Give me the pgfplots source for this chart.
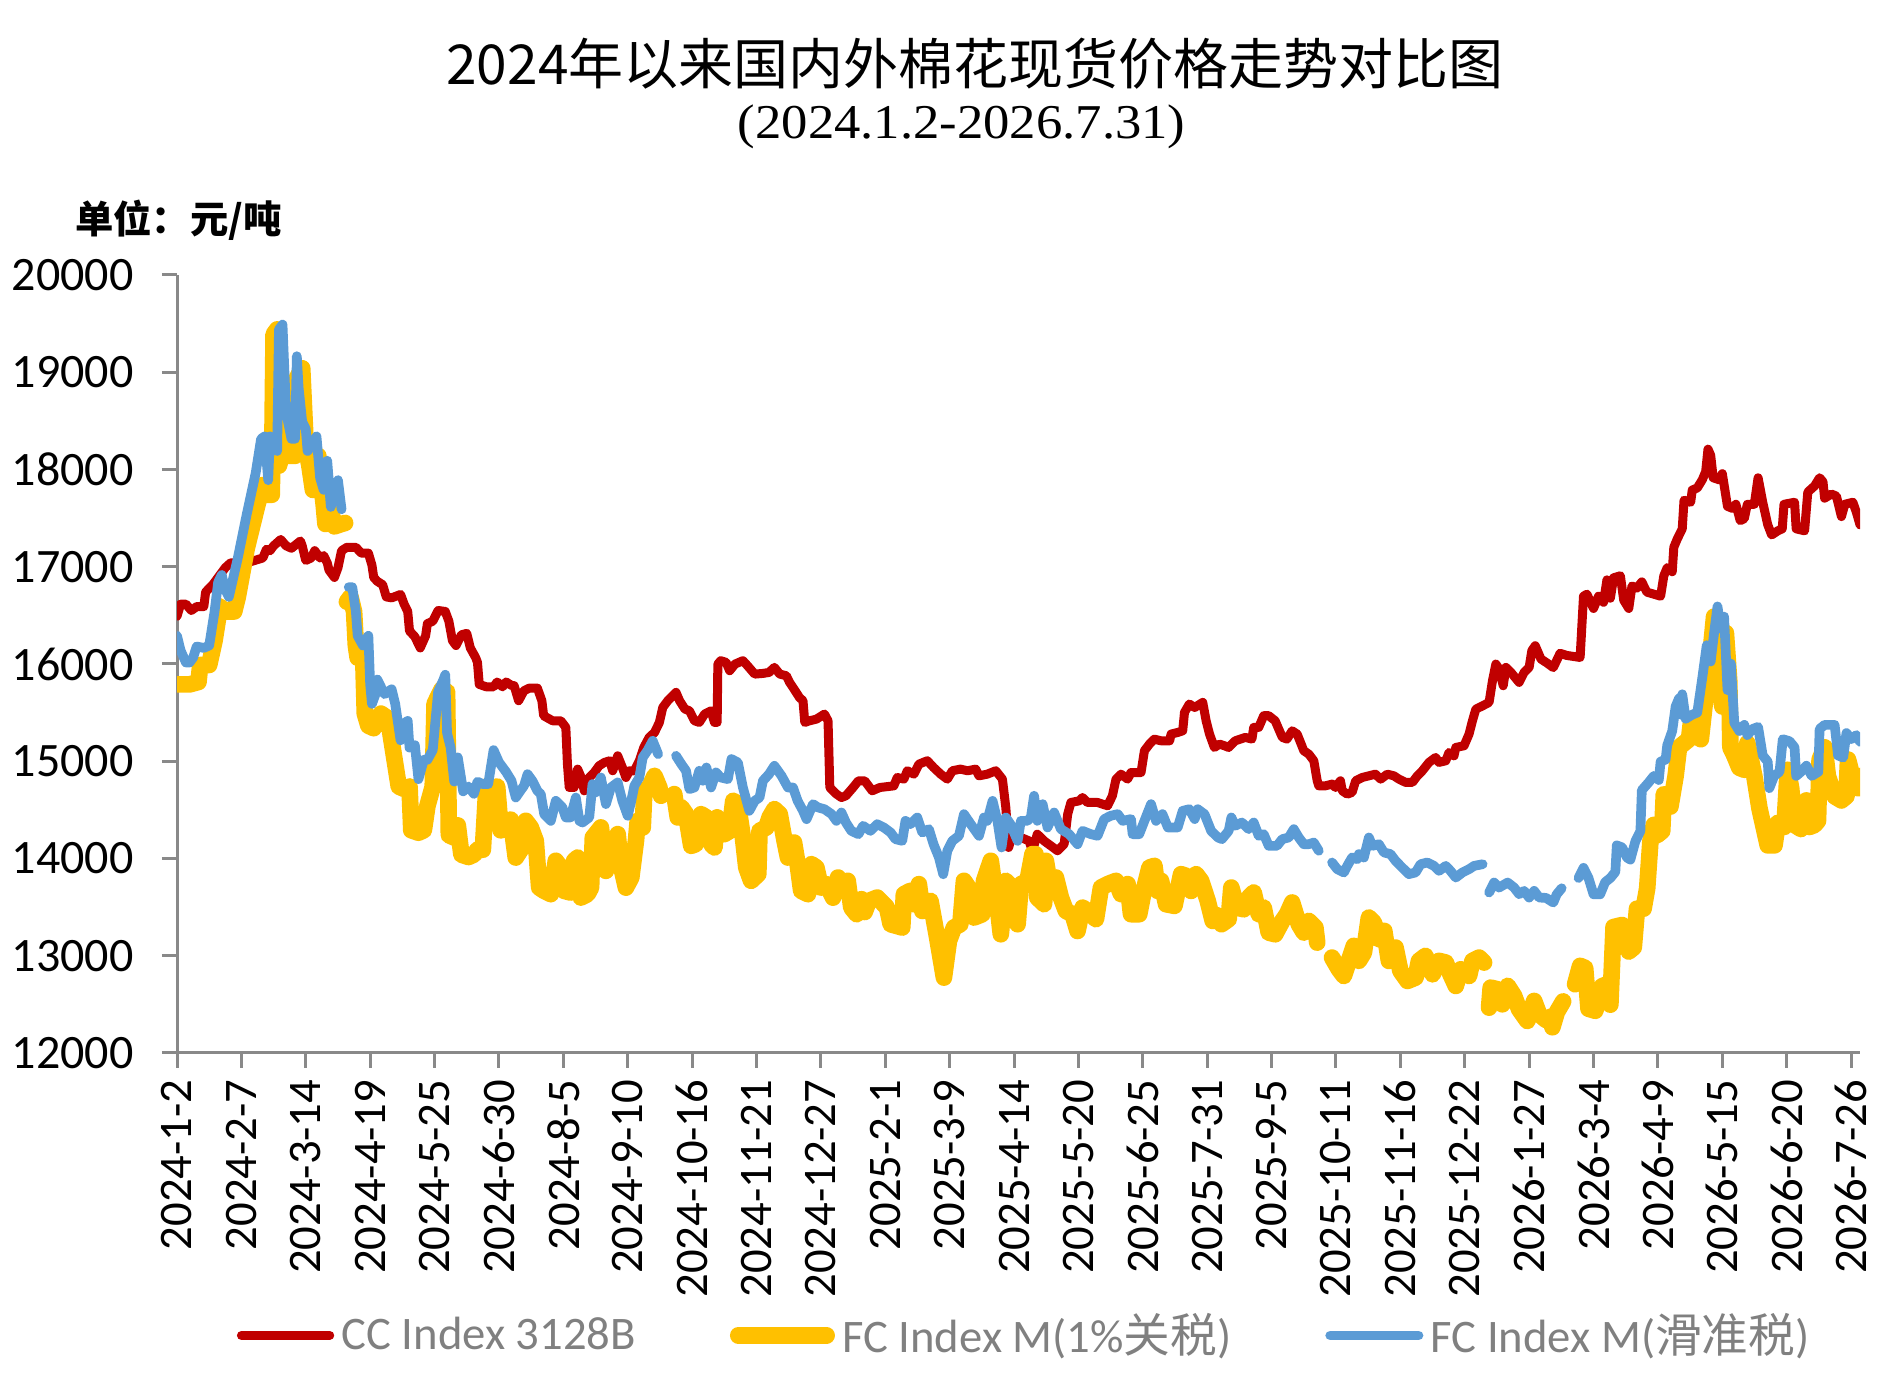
\documentclass[border=0pt]{standalone}
\usepackage{fontspec}
\setmainfont{Carlito}
\newfontfamily\cjk{Noto Sans CJK SC}
\newfontfamily\serifsub{Liberation Serif}
\usepackage{pgfplots}
\pgfplotsset{compat=1.18}
\definecolor{cred}{HTML}{C00000}
\definecolor{cyel}{HTML}{FFC000}
\definecolor{cblu}{HTML}{5B9BD5}
\definecolor{axgray}{HTML}{898989}
\definecolor{leggray}{HTML}{808080}
\begin{document}
\begin{tikzpicture}
\useasboundingbox (0pt,0pt) rectangle (570.3pt,419.4pt);
\node at (292.5pt,400.2pt) {\cjk\fontsize{16.5}{18}\selectfont 2024年以来国内外棉花现货价格走势对比图};
\node at (288.5pt,381.2pt) {\scalebox{1.17}[1.08]{\serifsub\fontsize{13.5}{15}\selectfont (2024.1.2-2026.7.31)}};
\node[anchor=west] at (19pt,353.4pt) {\cjk\bfseries\fontsize{11.5}{13}\selectfont 单位：元/吨};
\begin{axis}[
  at={(53.1pt,103.5pt)}, anchor=south west,
  scale only axis, width=504.9pt, height=233.4pt,
  xmin=0, xmax=941, ymin=12000, ymax=20000,
  axis x line*=bottom, axis y line*=left,
  axis line style={draw=axgray, line width=0.9pt},
  every tick/.style={draw=axgray, line width=0.9pt},
  tick align=outside, major tick length=4.5pt,
  xtick={0,36,...,936},
  xticklabels={2024-1-2,2024-2-7,2024-3-14,2024-4-19,2024-5-25,2024-6-30,2024-8-5,2024-9-10,2024-10-16,2024-11-21,2024-12-27,2025-2-1,2025-3-9,2025-4-14,2025-5-20,2025-6-25,2025-7-31,2025-9-5,2025-10-11,2025-11-16,2025-12-22,2026-1-27,2026-3-4,2026-4-9,2026-5-15,2026-6-20,2026-7-26},
  xticklabel style={rotate=90, anchor=east, font=\fontsize{14}{16}\selectfont},
  ytick={12000,13000,...,20000},
  scaled y ticks=false,
  yticklabel style={font=\fontsize{14.4}{16}\selectfont, /pgf/number format/1000 sep={}, xshift=-5pt},
  /pgf/number format/assume math mode=true,
  unbounded coords=jump,
  legend columns=3,
  legend style={at={(0.0352,-0.363)}, anchor=west, draw=none, fill=none, inner sep=0pt,
    font=\fontsize{14}{16}\selectfont, text=leggray,
    /tikz/every even column/.append style={column sep=26pt},
    nodes={inner sep=2.2pt}},
  legend image code/.code={\draw[#1] (0pt,0pt) -- (26.5pt,0pt);},
]
\addplot[cred, line width=2.7pt, line join=round, line cap=round] coordinates {
(0,16490)(2,16615)(5,16615)(8,16550)(11,16590)(15,16590)(16,16740)(20,16815)(22,16865)(27,16990)
(30,17040)(39,17040)(48,17090)(50,17180)(52,17165)(54,17215)(58,17280)(61,17215)(64,17190)(69,17265)
(70,17215)(72,17065)(75,17090)(77,17165)(80,17090)(82,17115)(84,17040)(85,16965)(88,16890)(90,16990)
(92,17165)(95,17200)(100,17200)(103,17140)(107,17140)(109,17015)(110,16890)(112,16850)(115,16815)(117,16690)
(120,16680)(125,16715)(127,16615)(129,16540)(130,16340)(133,16280)(136,16165)(139,16290)(140,16415)(143,16440)
(146,16550)(150,16540)(152,16440)(154,16240)(156,16190)(159,16300)(162,16315)(164,16165)(167,16065)(168,16015)
(169,15790)(173,15765)(177,15765)(179,15815)(182,15765)(184,15815)(187,15780)(188.5,15777)(191,15622)(194,15725)
(197,15752)(201.5,15752)(204,15622)(205,15468)(210,15416)(214.6,15416)(217.4,15348)(218.3,14970)(219.3,14730)(222,14730)
(224,14919)(226,14833)(227.7,14696)(230.5,14833)(233.3,14885)(236,14953)(239,14988)(242,15005)(243.6,14902)(246.4,15056)
(249,14936)(251,14833)(253,14902)(255.7,14902)(258.5,15005)(261,15142)(264,15245)(267,15296)(269.7,15399)(271.6,15553)
(274.4,15622)(279,15708)(281,15622)(284,15536)(286.5,15519)(289.3,15416)(292,15399)(295,15485)(298.6,15519)(300.5,15399)
(302,15399)(302.4,15999)(304,16034)(307,16017)(309,15931)(312,15999)(316.4,16034)(319,15982)(323,15896)(327.6,15903)
(331,15913)(334,15965)(337,15896)(340.7,15879)(342.5,15811)(345,15742)(348,15656)(350,15622)(351,15399)(353.7,15416)
(357.5,15433)(362,15485)(364,15416)(365,14730)(368.7,14662)(371.5,14627)(374,14645)(378,14730)(381,14799)(384.5,14799)
(386.5,14750)(388.7,14696)(393,14730)(400.8,14747)(402.7,14833)(406.4,14816)(408.3,14902)(412,14867)(414.8,14970)(419.5,15005)
(423,14936)(427,14867)(430.7,14816)(433.5,14902)(438,14919)(442,14902)(446.6,14919)(448.4,14850)(453,14867)(457.8,14902)
(461.5,14816)(463.4,14524)(465,14113)(467,14250)(471.8,14216)(476.4,14181)(478.3,14079)(481,14250)(484.8,14181)(488.6,14130)
(492.3,14079)(496,14147)(498,14456)(499.8,14576)(504.5,14593)(506.3,14627)(509,14576)(514.7,14576)(520.3,14542)(523,14645)
(525,14816)(527.8,14867)(531.5,14816)(533.4,14884)(539,14884)(540.9,15108)(543.7,15176)(546.5,15227)(550.2,15210)(555,15210)
(555.8,15279)(559.5,15296)(562.3,15313)(563.3,15502)(566,15588)(569,15553)(573.5,15605)(575.4,15416)(577.3,15279)(580,15142)
(582.9,15176)(585.7,15159)(588,15142)(591.7,15210)(597.3,15245)(601,15228)(602,15348)(604.8,15348)(607.6,15468)(610.4,15468)
(614,15416)(618,15245)(620.6,15228)(623.5,15313)(626.3,15279)(630,15108)(632.8,15073)(635.6,15005)(637.5,14799)(638.4,14747)
(642,14747)(646,14765)(647.7,14730)(650.5,14799)(651.5,14696)(654.3,14662)(657,14679)(659,14799)(662.7,14833)(666.4,14850)
(670,14867)(673,14816)(676.7,14867)(680.4,14850)(683.2,14816)(687,14782)(690.7,14782)(693.5,14850)(696.3,14902)(700,14988)
(703.7,15039)(705.6,14988)(709.4,15005)(711.2,15090)(714,15056)(715,15142)(719.6,15159)(722.4,15279)(724.3,15416)(726.2,15536)
(730,15570)(733.6,15605)(735.5,15828)(737.4,15999)(739.2,15948)(741.5,15776)(743,15965)(745.8,15914)(750.4,15811)(753.2,15914)
(756,15965)(757.5,16137)(759.4,16188)(762.6,16051)(766,16010)(769.5,15963)(773.3,16110)(777,16088)(784.5,16067)(786.4,16697)
(788.3,16718)(792,16571)(794.8,16697)(797.6,16634)(799.5,16865)(801.4,16676)(803.2,16886)(807,16907)(808.9,16655)(811.7,16571)
(813.5,16802)(816.3,16781)(819,16844)(821.8,16739)(825.7,16718)(829.5,16697)(831.3,16907)(833.2,16991)(836,16949)(836.9,17201)
(838.8,17285)(841.6,17390)(842.6,17684)(846.3,17663)(847.2,17789)(850,17810)(852.8,17894)(854.7,17978)(856,18209)(857.5,18146)
(858.9,17915)(862.2,17894)(864,17957)(866.9,17621)(869.7,17600)(871.6,17642)(874,17474)(876.3,17495)(878,17642)(881.9,17642)
(884,17915)(886.6,17663)(889.4,17432)(891.6,17327)(895,17369)(897.5,17390)(898.5,17642)(904.4,17663)(905.3,17390)(910,17369)
(911.8,17768)(915.6,17831)(918.4,17915)(920.3,17873)(921.2,17705)(925,17747)(927.8,17726)(930.6,17516)(932.5,17642)(937,17663)
(939,17558)(941,17430)
};
\addlegendentry{CC Index 3128B}
\addplot[cyel, line width=5pt, line join=round, line cap=round] coordinates {
(0,15790)(4,15790)(7,15790)(12,15815)(13,15990)(18,15990)(21,16240)(24,16590)(27,16540)(32,16540)
(34,16690)(39,17190)(45,17640)(48,17840)(49,17740)(53,17740)(54,19390)(56,19440)(57,18040)(60,18240)
(62,18140)(66,18140)(67,18940)(70,19040)(72,18240)(74,18040)(76,17790)(79,18140)(82,17640)(83,17440)
(86,17590)(88,17415)(92,17440)(94,17450)(94.5,nan)(95,16640)(97,16690)(99,16540)(100,16190)(101,16065)
(104,16140)(105,15490)(107,15365)(110,15340)(114,15490)(118,15440)(121,15090)(124,14740)(127,14715)(130,14740)
(131,14290)(135,14265)(138,14290)(140,14540)(143,14740)(144,15590)(148,15740)(151,15715)(152,14240)(155,14215)
(157,14340)(159,14040)(163,14015)(166,14040)(168,14090)(171,14090)(173,14740)(176,14690)(179,14740)(181,14290)
(184,14365)(186.6,14400)(189.4,14010)(193,14113)(195,14387)(197.8,14319)(200.6,14181)(202.5,13701)(205.3,13667)(209,13633)
(211.8,13976)(214.6,13907)(216.5,13667)(220,13650)(222,13976)(224,14010)(225.8,13598)(229.5,13633)(231.5,13700)(232.5,14216)
(234,14250)(237,14319)(239.8,13873)(242.6,14079)(246.4,14250)(248,13942)(251,13701)(254,13804)(256.6,14181)(257.6,14387)
(260.4,14319)(261.3,14696)(264,14730)(267,14850)(269.7,14730)(270.6,14645)(271,nan)(278,14662)(280,14422)(282,14525)
(284.6,14456)(287.5,14130)(290,14147)(293,14456)(296,14422)(298.6,14147)(300.5,14113)(302,14422)(306,14250)(309,14284)
(311,14593)(313.6,14559)(316.4,14216)(318.3,13907)(321,13770)(325,13839)(325.7,14284)(329.5,14319)(331.3,14422)(334,14507)
(337,14456)(339.7,14181)(341.6,14010)(345,14164)(347,13942)(349,13667)(352.8,13633)(354.7,13942)(357.5,13907)(360,13701)
(363,13736)(366.8,13598)(369.6,13804)(372.4,13701)(375,13770)(377,13495)(380,13427)(382.7,13581)(384.5,13450)(386.8,13564)
(391.5,13598)(397,13495)(399,13324)(405.5,13290)(406.4,13633)(410,13667)(412,13530)(414.8,13736)(416.7,13461)(421.3,13564)
(425,13187)(428.8,12775)(431.6,13153)(434.4,13290)(438,13324)(440,13770)(443.8,13667)(445.6,13393)(450.3,13427)(451.2,13770)
(455,13976)(456.8,13736)(458.7,13530)(460.6,13221)(463.4,13770)(467,13701)(470,13324)(471.8,13736)(475.5,13770)(478.3,14045)
(480,14045)(481,13598)(484.8,13530)(485.8,13976)(488.6,13667)(491.4,13804)(494.2,13598)(497,13461)(500.7,13427)(503.5,13255)
(506.3,13495)(509,13461)(513.8,13376)(516.6,13701)(520.3,13736)(525,13770)(527.8,13633)(531.5,13736)(533.4,13427)(538,13427)
(540.9,13701)(543.7,13907)(546.5,13924)(548.3,13667)(550.2,13770)(553,13530)(557.7,13513)(561.4,13839)(564.2,13821)(567,13667)
(569.8,13839)(572.6,13770)(576.3,13564)(579.1,13358)(581,13420)(584,13324)(588,13376)(589.5,13701)(592.6,13495)(596.4,13478)
(599.2,13598)(602,13650)(604.8,13427)(607.6,13495)(610.4,13238)(614,13221)(618,13358)(620.6,13427)(623.5,13547)(627.2,13324)
(630,13238)(632.8,13358)(636.5,13290)(637.5,13135)(639,nan)(645.8,12981)(649.6,12861)(652.4,12792)(655.2,12947)(658,13101)
(660.8,12947)(663.6,13032)(666.4,13393)(669.2,13341)(672,13170)(675,13255)(677.6,12947)(681.3,13084)(684,12844)(688,12741)
(692.5,12775)(694.4,12947)(698,12998)(702,12809)(705.6,12947)(709.4,12930)(712,12809)(715,12690)(717.7,12861)(722.4,12792)
(724.3,12947)(728,12981)(730.8,12930)(732,nan)(733.6,12466)(734.5,12672)(738.3,12655)(741,12501)(744,12690)(747.6,12587)
(750.4,12449)(755,12329)(758.8,12535)(761.6,12398)(765.4,12340)(767.7,12371)(769,12265)(771.5,12420)(775,12530)(776,nan)
(781.7,12707)(784.5,12896)(787.3,12875)(789.2,12455)(793,12434)(796.7,12686)(799.5,12707)(801.4,12497)(803.2,13295)(808,13316)
(811.7,13043)(814.5,13085)(816.3,13484)(820,13484)(822,13694)(823.8,14177)(825.7,14345)(827.6,14240)(830.4,14282)(831.3,14660)
(834,14618)(835,14534)(837.9,14849)(839.8,15143)(842.6,15185)(845.4,15227)(846.3,15374)(849,15311)(852,15227)(854,15563)
(855.8,15857)(857.5,16130)(859.4,16487)(861.3,15983)(864,15563)(866,16319)(867.9,15815)(868.5,15143)(870.7,15059)(873.5,14933)
(876.3,14912)(878,15185)(881.9,14849)(884.8,14513)(889.4,14135)(893.2,14135)(895,14366)(898.7,14324)(900.6,14912)(902.5,14723)
(904.4,14345)(908,14303)(911,14597)(912.8,14324)(915.6,14345)(917.5,14387)(918.4,15017)(921.2,15143)(923,14849)(926.8,14639)
(930.6,14597)(933.4,14639)(934.3,15017)(937.2,14807)(940,14723)(941,14849)
};
\addlegendentry{FC Index M(1\%{\cjk 关税})}
\addplot[cblu, line width=2.9pt, line join=round, line cap=round] coordinates {
(0,16290)(2,16140)(5,16015)(7,16015)(9,16065)(11,16180)(15,16165)(18,16190)(21,16540)(23,16840)
(25,16915)(27,16765)(29,16690)(34,17090)(39,17540)(44,17965)(47,18315)(49,18340)(51,17890)(52,18340)
(54,18315)(56,18190)(57,19440)(59,19490)(61,18590)(64,18315)(66,18315)(67,19165)(68,18840)(70,18490)
(72,18415)(73,18190)(75,18240)(78,18340)(80,17915)(82,17790)(84,18090)(86,17615)(88,17790)(90,17890)
(92,17590)(93,nan)(96,16790)(98,16790)(100,16540)(101,16290)(104,16190)(106,16265)(107,16290)(108,15790)
(109,15590)(111,15690)(112,15840)(114,15765)(116,15690)(120,15740)(122,15590)(125,15215)(127,15390)(129,15415)
(130,15140)(133,15165)(135,14815)(138,15015)(140,15015)(143,15115)(146,15715)(149,15840)(150,15890)(151,15290)
(153,15140)(155,14790)(157,15040)(160,14690)(163,14740)(166,14665)(168,14790)(171,14765)(174,14765)(177,15115)
(180,14990)(184,14890)(187,14800)(189.4,14627)(192,14696)(194,14747)(196,14867)(198.7,14799)(201.5,14696)(203.4,14662)
(205.3,14456)(209,14387)(211.8,14593)(215.5,14525)(217.4,14422)(220,14422)(223,14627)(225,14387)(226.7,14370)(230.5,14422)
(232.3,14765)(234,14679)(237,14833)(239.8,14559)(242.6,14730)(246.4,14782)(249,14593)(252,14439)(254,14593)(255.7,14747)
(258.5,14833)(260.4,15039)(263,15108)(266,15210)(269,15073)(270,nan)(279,15056)(282,14970)(284.6,14902)(286.5,14713)
(289.3,14730)(292,14902)(294,14799)(296,14936)(298.6,14730)(301.4,14885)(304,14833)(308,14816)(310,15022)(313.6,14988)
(316.4,14730)(320,14490)(323,14593)(325.7,14627)(327.6,14799)(331,14867)(334,14953)(338,14850)(341.6,14730)(344.4,14730)
(347,14593)(350,14490)(352,14404)(355.6,14559)(358.4,14525)(362,14507)(366,14456)(368.7,14387)(371.5,14473)(374,14370)
(377,14284)(381,14250)(383.6,14336)(385,14319)(387.7,14284)(391.5,14353)(395.2,14319)(399,14267)(401.7,14199)(405.5,14181)
(407.3,14387)(410,14353)(413.9,14422)(416.7,14267)(420.4,14302)(423,14147)(426,14010)(428.4,13838)(430.7,14079)(433.5,14181)
(437.2,14233)(440,14456)(443.8,14353)(448.4,14233)(451.2,14422)(453,14387)(456,14593)(458.7,14387)(461,14113)(463.4,14422)
(466,14353)(470,14181)(471.8,14387)(475.5,14387)(477.4,14422)(479.2,14645)(481,14387)(484,14559)(486.7,14319)(490.4,14473)
(494.2,14302)(498.8,14250)(503.5,14147)(506.3,14284)(511,14250)(514.7,14233)(518.4,14405)(522,14439)(526,14456)(528.7,14387)
(533.4,14405)(534.3,14250)(538,14250)(540.9,14387)(544.6,14559)(547.4,14387)(551,14456)(554,14319)(559.5,14319)(562.3,14490)
(566,14507)(569,14405)(570.7,14507)(574.5,14456)(578.2,14284)(582,14216)(584.2,14199)(588,14284)(589.5,14422)(591.7,14336)
(595.4,14370)(599.2,14302)(602,14370)(604.8,14233)(607.6,14250)(610.4,14130)(615,14130)(618,14199)(621.6,14216)(624.4,14302)
(627.2,14216)(630,14147)(632.8,14147)(635.6,14164)(638.4,14079)(640,nan)(645.8,13959)(648.7,13890)(652.4,13856)(654.3,13924)
(657,14010)(660,13993)(660.8,14045)(663.6,14010)(666.4,14216)(668.3,14130)(672,14147)(674.8,14062)(678.5,14045)(681.3,13976)
(685,13907)(688.8,13839)(692.5,13856)(695.3,13941)(699,13959)(702.8,13924)(705.6,13873)(709.4,13924)(712,13873)(715,13804)
(718.7,13856)(722.4,13890)(725.2,13924)(730,13941)(731.5,nan)(733.6,13650)(736.4,13753)(739.2,13701)(744,13753)(747.6,13701)
(750.4,13633)(753.2,13667)(756,13598)(758.8,13667)(761.6,13598)(765.4,13595)(769.5,13547)(771.4,13631)(774.2,13694)(776,nan)
(783.6,13799)(786.4,13904)(789.2,13799)(792,13631)(795.7,13631)(798.5,13757)(801.4,13799)(804.2,13862)(805,14135)(808,14114)
(810.7,14009)(812.6,13988)(815.4,14177)(818.2,14282)(819,14702)(823,14786)(825.7,14849)(828.5,14807)(829.5,14996)(832.3,15017)
(833.2,15164)(836,15311)(837.9,15563)(839.8,15647)(840.7,15479)(841.6,15689)(843.5,15437)(847.2,15479)(850,15500)(852.8,15857)
(855.3,16193)(857.5,16025)(859.4,16319)(861.3,16592)(863.2,16361)(865,16487)(866.9,15731)(868.8,16004)(870.7,15395)(873.5,15311)
(876.3,15374)(878,15269)(881,15332)(884,15353)(886.6,15059)(889.4,14996)(890.3,14723)(893,14849)(896,14891)(897.8,15227)
(901.6,15206)(904.4,15143)(905.3,14849)(908,14891)(911,14954)(914,14849)(917.7,14891)(918.4,15332)(921.2,15374)(924,15374)
(926.8,15374)(928.7,15059)(931.6,15038)(933.4,15290)(936.2,15227)(939,15269)(941,15200)
};
\addlegendentry{FC Index M({\cjk 滑准税})}
\end{axis}
\end{tikzpicture}
\end{document}
